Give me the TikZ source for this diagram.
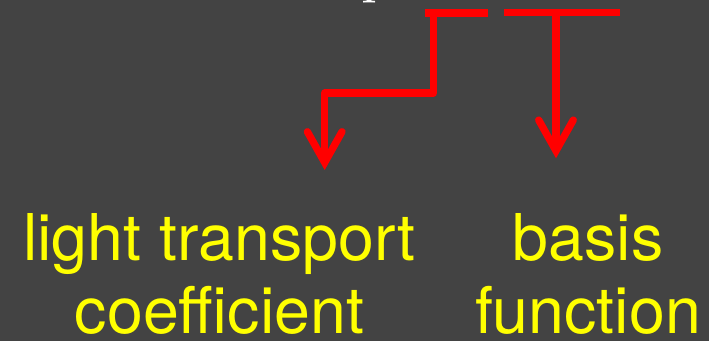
\documentclass[tikz,border=0pt]{standalone}
\usepackage{fontspec}
\newfontfamily\labelfont{TeX Gyre Heros}
\usepackage{tikz}
\usetikzlibrary{arrows.meta,positioning}
\definecolor{slidebg}{HTML}{434343}
\definecolor{termred}{HTML}{FF0000}
\definecolor{termyellow}{HTML}{FFFF00}

\begin{document}
\begin{tikzpicture}[x=0.5pt,y=-0.5pt,
  termbar/.style={termred, line width=3.65pt},
  termarrow/.style={termred, line width=3.65pt, line join=round,
    -{Straight Barb[length=15.4pt,width=17.3pt,line cap=round]}},
  termlabel/.style={termyellow, font=\labelfont\fontsize{32.25}{36.5}\selectfont,
    align=center, inner sep=0pt}]
\fill[slidebg] (0,0) rectangle (709,341);
\useasboundingbox (0,0) rectangle (709,341);
\node[white, font=\fontsize{32}{36}\selectfont, inner sep=0pt, anchor=south west] (formula) at (361,3.3) {p};
\node[termlabel, anchor=base] (coeff) at (219.5,334) {light transport\\coefficient};
\node[termlabel, anchor=base] (basis) at (588,334) {basis\\function};
\coordinate (lbarW) at (425,13);
\coordinate (lbarE) at (488.3,13);
\coordinate (rbarW) at (504,12.2);
\coordinate (rbarE) at (620,12.2);
\coordinate (lroot) at (433.7,13);
\coordinate (ltip) at (324.7,170);
\coordinate (rroot) at (556,12.2);
\coordinate (rtip) at (556,158.3);
\draw[termbar] (lbarW) -- (lbarE);
\draw[termbar] (rbarW) -- (rbarE);
\draw[termarrow] (lroot) -- ++(0,80) -| (ltip);
\draw[termarrow] (rroot) -- (rtip);
\end{tikzpicture}
\end{document}
